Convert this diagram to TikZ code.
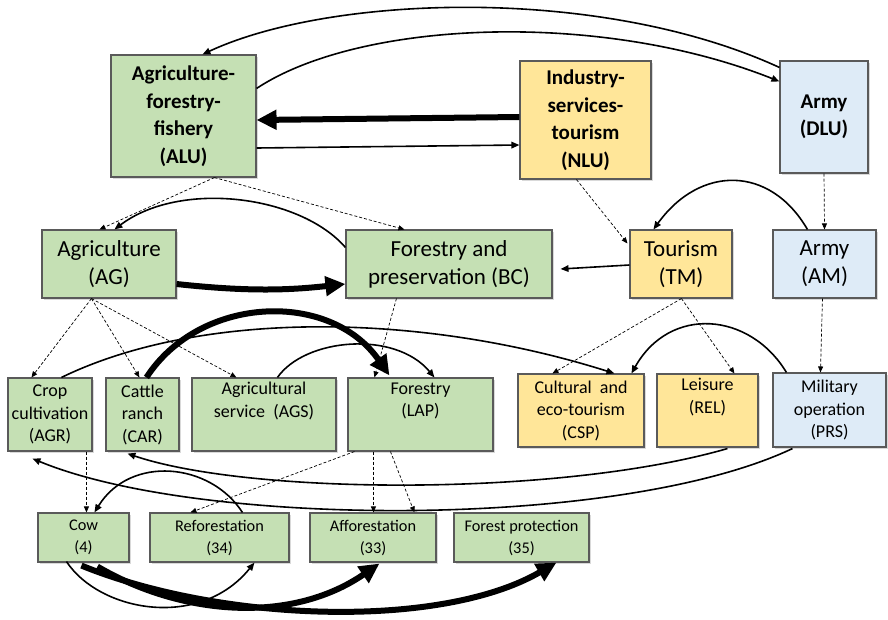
\documentclass[tikz,border=0pt]{standalone}
\usepackage{fontspec}
\setmainfont{Carlito}
\usetikzlibrary{arrows.meta,calc,shadows}
\definecolor{gfill}{HTML}{C5E0B4}
\definecolor{yfill}{HTML}{FFE699}
\definecolor{bfill}{HTML}{DEEBF7}
\definecolor{bord}{HTML}{5A5A5A}
\tikzset{
  box/.style={draw=bord, line width=1.1pt, inner sep=0pt, align=center,
    drop shadow={shadow xshift=2pt, shadow yshift=-2pt, opacity=0.3}},
  gbox/.style={box, fill=gfill},
  ybox/.style={box, fill=yfill},
  bbox/.style={box, fill=bfill},
  lvA/.style={font=\fontsize{21}{27.5}\selectfont\bfseries},
  lvB/.style={font=\fontsize{23}{28}\selectfont},
  lvC/.style={font=\fontsize{18}{22.5}\selectfont},
  lvD/.style={font=\fontsize{16.3}{22}\selectfont},
  conn/.style={line width=1.6pt, -{Triangle[length=8pt,width=6.5pt]}},
  fat/.style={line width=6pt, -{Triangle[length=20pt,width=19pt]}},
  dsh/.style={line width=0.7pt, dash pattern=on 3pt off 2pt, -{Triangle[length=6pt,width=5pt]}},
}
\begin{document}
\begin{tikzpicture}[x=1pt,y=-1pt]
\useasboundingbox (0,0) rectangle (888,619);
% level 1
\node[gbox,lvA,minimum width=145pt,minimum height=122pt] (alu) at (183.5,116) {Agriculture-\\forestry-\\fishery\\(ALU)};
\node[ybox,lvA,minimum width=131pt,minimum height=118pt] (nlu) at (585.5,120) {Industry-\\services-\\tourism\\(NLU)};
\node[bbox,lvA,minimum width=88pt,minimum height=112pt] (dlu) at (824,117) {Army\\(DLU)};
% level 2
\node[gbox,lvB,minimum width=134pt,minimum height=68pt] (ag) at (109,264) {Agriculture\\(AG)};
\node[gbox,lvB,minimum width=206pt,minimum height=68pt] (bc) at (449,264) {Forestry and\\preservation (BC)};
\node[ybox,lvB,minimum width=102pt,minimum height=68pt] (tm) at (681,264) {Tourism\\(TM)};
\node[bbox,lvB,minimum width=103pt,minimum height=68pt] (am) at (824.5,264) {Army\\(AM)};
% level 3
\node[gbox,lvC,minimum width=84pt,minimum height=73pt] (agr) at (50,414.5) {Crop\\cultivation\\(AGR)};
\node[gbox,lvC,minimum width=73pt,minimum height=73pt] (car) at (142.5,414.5) {Cattle\\ranch\\(CAR)};
\node[gbox,lvC,minimum width=144pt,minimum height=73pt] (ags) at (264,414.5) {Agricultural\\service~ (AGS)\\\strut};
\node[gbox,lvC,minimum width=145pt,minimum height=73pt] (lap) at (420.5,414.5) {Forestry\\(LAP)\\\strut};
\node[ybox,lvC,minimum width=126pt,minimum height=73pt] (csp) at (581,410.5) {Cultural~ and\\eco-tourism\\(CSP)};
\node[ybox,lvC,minimum width=101pt,minimum height=73pt] (rel) at (707.5,410.5) {Leisure\\(REL)\\\strut};
\node[bbox,lvC,minimum width=113pt,minimum height=74pt] (prs) at (829.5,410) {Military\\operation\\(PRS)};
% level 4
\node[gbox,lvD,minimum width=91pt,minimum height=49pt] (cow) at (83.5,537.5) {Cow\\(4)};
\node[gbox,lvD,minimum width=139pt,minimum height=49pt] (ref) at (219.5,537.5) {Reforestation\\(34)};
\node[gbox,lvD,minimum width=126pt,minimum height=49pt] (aff) at (373,537.5) {Afforestation\\(33)};
\node[gbox,lvD,minimum width=135pt,minimum height=49pt] (fpr) at (521.5,537.5) {Forest protection\\(35)};

% top connectors
\draw[conn] ($(dlu.north west)+(0,7)$) .. controls (600,-15) and (330,-5) .. ($(alu.north west)+(92,0)$);
\draw[conn] ($(alu.north east)+(0,34)$) .. controls (360,20) and (600,10) .. ($(dlu.north west)+(0,21)$);
\draw[fat] ($(nlu.west)+(0,-3)$) -- ($(alu.east)+(0,4)$);
\draw[conn] ($(alu.east)+(0,32)$) -- ($(nlu.west)+(0,25)$);
\draw[dsh] ($(alu.south west)+(104,0)$) -- ($(ag.north west)+(58,0)$);
\draw[dsh] ($(alu.south west)+(104,0)$) -- ($(bc.north west)+(59,0)$);
\draw[dsh] ($(nlu.south west)+(57,0)$) -- ($(tm.north west)+(-2,14)$);
\draw[dsh] (dlu.south) -- (am.north);

% level 2 connectors
\draw[conn] ($(bc.north west)+(0,18)$) .. controls (300,195) and (180,180) .. ($(ag.north west)+(73,0)$);
\draw[fat] ($(ag.east)+(0,20)$) .. controls (250,292) and (290,290) .. ($(bc.west)+(0,20)$);
\draw[conn] ($(am.north west)+(35,0)$) .. controls (770,165) and (700,165) .. ($(tm.north west)+(24,0)$);
\draw[conn] ($(tm.west)+(0,1)$) -- ($(bc.east)+(8,5)$);

% dashed to level 3
\draw[dsh] ($(ag.south west)+(50,0)$) -- ($(agr.north west)+(24,0)$);
\draw[dsh] ($(ag.south west)+(50,0)$) -- ($(car.north west)+(34,0)$);
\draw[dsh] ($(ag.south west)+(50,0)$) -- ($(ags.north west)+(45,0)$);
\draw[dsh] ($(bc.south west)+(51,0)$) -- ($(lap.north west)+(27,0)$);
\draw[dsh] ($(tm.south west)+(52,0)$) -- ($(csp.north west)+(35,0)$);
\draw[dsh] ($(tm.south west)+(52,0)$) -- ($(rel.north west)+(78,0)$);
\draw[dsh] ($(am.south west)+(50,0)$) -- ($(prs.north west)+(48,0)$);

% level 3 connectors
\draw[conn] ($(agr.north west)+(54,0)$) .. controls (200,310) and (420,312) .. ($(csp.north west)+(97,0)$);
\draw[fat] ($(car.north west)+(41,0)$) .. controls (200,295) and (330,290) .. ($(lap.north west)+(42,-2)$);
\draw[conn] ($(ags.north west)+(86,0)$) .. controls (305,338) and (395,330) .. ($(lap.north west)+(87,0)$);
\draw[conn] ($(prs.north west)+(14,0)$) .. controls (750,312) and (670,305) .. ($(csp.north west)+(114,0)$);
\draw[conn] ($(rel.south west)+(71,1)$) .. controls (560,497) and (250,495) .. ($(car.south west)+(22,2)$);
\draw[conn] ($(prs.south west)+(20,1)$) .. controls (620,530) and (200,528) .. ($(agr.south west)+(25,7)$);

% dashed to level 4
\draw[dsh] ($(agr.south west)+(79,0)$) -- ($(cow.north west)+(49,0)$);
\draw[dsh] ($(lap.south west)+(7,0)$) -- ($(ref.north west)+(41,0)$);
\draw[dsh] ($(lap.south west)+(26,0)$) -- ($(aff.north west)+(64,0)$);
\draw[dsh] ($(lap.south west)+(43,0)$) -- ($(aff.north west)+(105,0)$);

% level 4 connectors
\draw[conn] ($(ref.north west)+(93,0)$) .. controls (210,462) and (130,455) .. ($(cow.north west)+(57,0)$);
\draw[conn] ($(cow.south west)+(29,-1)$) .. controls (100,612) and (200,630) .. ($(ref.south west)+(105,0)$);
\draw[fat] ($(cow.south west)+(60,4)$) .. controls (180,615) and (290,625) .. ($(aff.south west)+(70,1)$);
\draw[fat] ($(cow.south west)+(44,3)$) .. controls (220,622) and (440,630) .. ($(fpr.south west)+(103,0)$);
\end{tikzpicture}
\end{document}
